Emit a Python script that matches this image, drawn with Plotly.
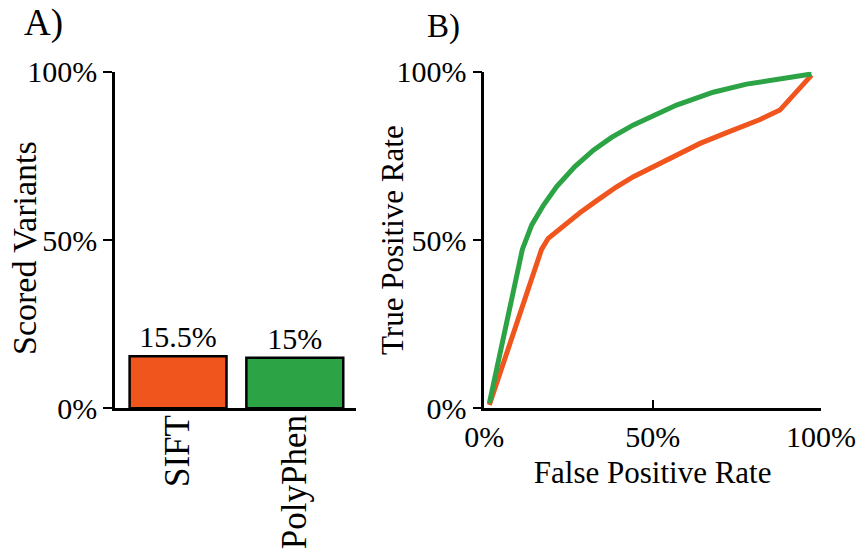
import plotly.graph_objects as go

methods = ["SIFT", "PolyPhen"]
scored_pct = [15.5, 15.0]
bar_labels = ["15.5%", "15%"]

sift_fpr = [1.5, 17.0, 19.0, 22.0, 28.4, 33.4, 39.3, 44.3, 50.2, 57.1, 64.1, 72.0, 81.9, 87.8, 97.2]
sift_tpr = [1.0, 47.2, 50.5, 53.0, 58.1, 61.7, 65.8, 68.8, 71.8, 75.5, 78.7, 81.9, 85.8, 88.6, 99.0]
polyphen_fpr = [1.5, 11.3, 14.1, 17.6, 21.5, 26.9, 32.4, 37.8, 44.3, 50.2, 57.1, 68.0, 77.9, 97.2]
polyphen_tpr = [1.5, 47.2, 54.5, 60.4, 65.9, 71.8, 76.7, 80.5, 84.2, 87.1, 90.1, 93.9, 96.3, 99.3]

pct_ticks = [0, 50, 100]
pct_ticktext = ["0%", "50%", "100%"]

ORANGE = "#F0551E"
GREEN = "#2CA345"
FONT = "Liberation Serif, Times New Roman, Times, serif"
W, H = 858, 560

fig = go.Figure()

fig.add_trace(go.Bar(
    x=methods, y=scored_pct, text=bar_labels, textposition="outside",
    marker=dict(color=[ORANGE, GREEN], line=dict(color="black", width=2.5)),
    textfont=dict(family=FONT, size=30, color="black"),
    cliponaxis=False, xaxis="x", yaxis="y", showlegend=False,
))

fig.add_trace(go.Scatter(x=sift_fpr, y=sift_tpr, mode="lines",
                         line=dict(color=ORANGE, width=5), xaxis="x2", yaxis="y2", showlegend=False))
fig.add_trace(go.Scatter(x=polyphen_fpr, y=polyphen_tpr, mode="lines",
                         line=dict(color=GREEN, width=5), xaxis="x2", yaxis="y2", showlegend=False))

ydom = [1 - 408.3 / H, 1 - 71.7 / H]
tickfont = dict(family=FONT, size=30, color="black")

common_y = dict(range=[0, 100], tickvals=pct_ticks, ticktext=pct_ticktext, showgrid=False,
                zeroline=False, linecolor="black", linewidth=2.5, tickcolor="black",
                tickwidth=2, ticklen=9, ticks="outside", tickfont=tickfont, domain=ydom,
                automargin=False)

fig.update_layout(
    template="none",
    width=W, height=H, margin=dict(l=0, r=0, t=0, b=0, autoexpand=False),
    paper_bgcolor="white", plot_bgcolor="white", bargap=0.17,
    font=dict(family=FONT, color="black"),
    xaxis=dict(domain=[115 / W, 356 / W], range=[-0.54, 1.524], anchor="y",
               showline=True, linecolor="black", linewidth=2.5, ticks="",
               tickangle=-90, tickfont=dict(family=FONT, size=35, color="black"),
               showgrid=False, zeroline=False, ticklabelstandoff=-10, automargin=False),
    yaxis=dict(anchor="x", showline=True, **common_y),
    yaxis3=dict(overlaying="y", anchor="x", side="left", range=[0, 100], tickvals=pct_ticks,
                ticks="inside", ticklen=9, tickwidth=2, tickcolor="black",
                showticklabels=False, showline=False, showgrid=False, zeroline=False,
                automargin=False),
    xaxis2=dict(domain=[484.3 / W, 821 / W], range=[0, 100], anchor="y2",
                tickvals=pct_ticks, ticktext=pct_ticktext, ticks="inside", ticklen=9,
                tickwidth=2, tickcolor="black", showline=True, linecolor="black",
                linewidth=2.5, showgrid=False, zeroline=False, tickfont=tickfont,
                automargin=False,
                title=dict(text="False Positive Rate", font=dict(family=FONT, size=31, color="black"),
                           standoff=10)),
    yaxis2=dict(anchor="x2", showline=True, **common_y),
    yaxis4=dict(overlaying="y2", anchor="x2", side="left", range=[0, 100], tickvals=pct_ticks,
                ticks="inside", ticklen=9, tickwidth=2, tickcolor="black",
                showticklabels=False, showline=False, showgrid=False, zeroline=False,
                automargin=False),
)

annos = [
    dict(text="A)", x=22 / W, y=1 - 23 / H, xanchor="left", yanchor="middle", size=37, angle=0),
    dict(text="B)", x=425 / W, y=1 - 26 / H, xanchor="left", yanchor="middle", size=33, angle=0),
    dict(text="Scored Variants", x=24 / W, y=1 - 248 / H, xanchor="center", yanchor="middle", size=34, angle=-90),
    dict(text="True Positive Rate", x=392 / W, y=1 - 240 / H, xanchor="center", yanchor="middle", size=31, angle=-90),
]
for a in annos:
    fig.add_annotation(text=a["text"], xref="paper", yref="paper", x=a["x"], y=a["y"],
                       xanchor=a["xanchor"], yanchor=a["yanchor"], showarrow=False,
                       textangle=a["angle"], font=dict(family=FONT, size=a["size"], color="black"))

fig.write_html("out.html")
